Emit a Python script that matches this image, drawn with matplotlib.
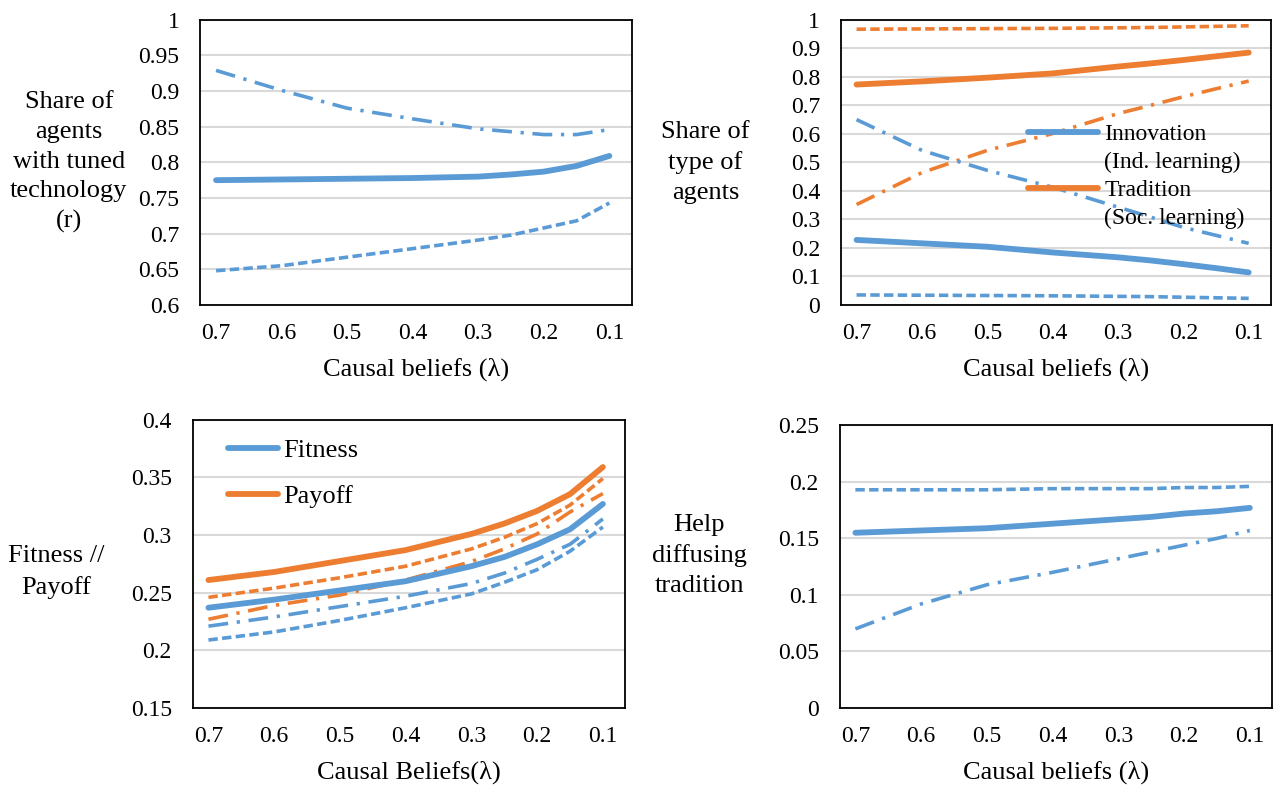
import numpy as np
import matplotlib
matplotlib.use('Agg')
import matplotlib.pyplot as plt
from matplotlib.lines import Line2D

plt.rcParams['font.family'] = ['Liberation Serif', 'DejaVu Serif']
plt.rcParams['font.size'] = 17

blue = '#5B9BD5'
orange = '#ED7D31'

# causal beliefs lambda
lam = [0.7, 0.6, 0.5, 0.4, 0.3, 0.25, 0.2, 0.15, 0.1]
lam_ticks = [0.7, 0.6, 0.5, 0.4, 0.3, 0.2, 0.1]

# share of agents with tuned technology (r)
r_mean = [0.775, 0.776, 0.777, 0.778, 0.780, 0.783, 0.787, 0.795, 0.809]
r_high = [0.929, 0.901, 0.876, 0.861, 0.847, 0.843, 0.839, 0.839, 0.846]
r_low = [0.648, 0.655, 0.667, 0.679, 0.691, 0.698, 0.708, 0.718, 0.743]

# share of type of agents
innov_mean = [0.228, 0.216, 0.204, 0.184, 0.167, 0.156, 0.143, 0.129, 0.114]
innov_dd = [0.650, 0.542, 0.472, 0.413, 0.343, 0.308, 0.272, 0.244, 0.216]
innov_dash = [0.035, 0.034, 0.033, 0.032, 0.030, 0.029, 0.027, 0.025, 0.023]
trad_mean = [0.773, 0.784, 0.797, 0.812, 0.836, 0.847, 0.859, 0.872, 0.885]
trad_dd = [0.352, 0.464, 0.542, 0.601, 0.671, 0.700, 0.730, 0.758, 0.785]
trad_dash = [0.967, 0.968, 0.969, 0.970, 0.972, 0.973, 0.975, 0.977, 0.979]

# fitness and payoff
fit_mean = [0.237, 0.244, 0.252, 0.260, 0.273, 0.281, 0.292, 0.305, 0.327]
fit_dd = [0.221, 0.229, 0.238, 0.247, 0.258, 0.267, 0.279, 0.292, 0.314]
fit_dash = [0.209, 0.216, 0.226, 0.237, 0.249, 0.259, 0.270, 0.286, 0.307]
pay_mean = [0.261, 0.268, 0.2775, 0.287, 0.301, 0.310, 0.321, 0.3355, 0.359]
pay_dash = [0.246, 0.254, 0.263, 0.273, 0.288, 0.298, 0.310, 0.326, 0.349]
pay_dd = [0.227, 0.239, 0.248, 0.261, 0.277, 0.288, 0.301, 0.320, 0.336]

# help diffusing tradition
help_mean = [0.155, 0.157, 0.159, 0.163, 0.167, 0.169, 0.172, 0.174, 0.177]
help_dd = [0.070, 0.092, 0.109, 0.120, 0.132, 0.138, 0.144, 0.150, 0.157]
help_dash = [0.193, 0.193, 0.193, 0.194, 0.194, 0.194, 0.195, 0.195, 0.196]

fig = plt.figure(figsize=(12.76, 7.92), dpi=100)
ax1 = fig.add_axes([0.157, 0.615, 0.338, 0.360])
ax2 = fig.add_axes([0.659, 0.615, 0.337, 0.360])
ax3 = fig.add_axes([0.151, 0.106, 0.339, 0.364])
ax4 = fig.add_axes([0.658, 0.106, 0.339, 0.357])

SOLID = dict(lw=4.2, solid_capstyle='round', solid_joinstyle='round')
DASH = dict(lw=2.6, ls=(0, (2.6, 1.2)))
DDOT = dict(lw=2.6, ls=(0, (5.5, 2.4, 0.9, 2.4)))


def style(ax, ylim, yticks, ylabels, xlabel, ytext, ytext_x, ytext_y=0.5):
    ax.set_xlim(0.724, 0.066)
    ax.set_ylim(*ylim)
    ax.set_xticks(lam_ticks)
    ax.set_xticklabels([str(v) for v in lam_ticks])
    ax.set_yticks(yticks)
    ax.set_yticklabels(ylabels)
    ax.tick_params(length=0, labelsize=17)
    ax.tick_params(axis='x', pad=13)
    ax.tick_params(axis='y', pad=15)
    ax.grid(axis='y', color='#D9D9D9', lw=1.5)
    ax.set_axisbelow(True)
    for s in ax.spines.values():
        s.set_linewidth(1.3)
        s.set_color('black')
    ax.set_xlabel(xlabel, fontsize=19, labelpad=10)
    ax.text(ytext_x, ytext_y, ytext, transform=ax.transAxes, ha='center',
            va='center', fontsize=19, linespacing=1.45)


ax1.plot(lam, r_mean, color=blue, **SOLID)
ax1.plot(lam, r_high, color=blue, **DDOT)
ax1.plot(lam, r_low, color=blue, **DASH)
style(ax1, (0.6, 1.0), np.arange(0.6, 1.001, 0.05),
      ['0.6', '0.65', '0.7', '0.75', '0.8', '0.85', '0.9', '0.95', '1'],
      'Causal beliefs (\u03bb)',
      'Share of\nagents\nwith tuned\ntechnology\n(r)', -0.305)

ax2.plot(lam, trad_dash, color=orange, **DASH)
ax2.plot(lam, trad_mean, color=orange, **SOLID)
ax2.plot(lam, trad_dd, color=orange, **DDOT)
ax2.plot(lam, innov_dd, color=blue, **DDOT)
ax2.plot(lam, innov_mean, color=blue, **SOLID)
ax2.plot(lam, innov_dash, color=blue, **DASH)
style(ax2, (0.0, 1.0), np.arange(0, 1.001, 0.1),
      ['0', '0.1', '0.2', '0.3', '0.4', '0.5', '0.6', '0.7', '0.8', '0.9', '1'],
      'Causal beliefs (\u03bb)', 'Share of\ntype of\nagents', -0.315)
# second line of each entry gets an empty handle so the swatch sits on the first line
h_in = Line2D([], [], color=blue, lw=4.2, solid_capstyle='round')
h_tr = Line2D([], [], color=orange, lw=4.2, solid_capstyle='round')
h_no = Line2D([], [], color='none')
ax2.legend([h_in, h_no, h_tr, h_no],
           ['Innovation', '(Ind. learning)', 'Tradition', '(Soc. learning)'],
           loc='upper left', bbox_to_anchor=(0.434, 0.636), frameon=False,
           handlelength=3.0, handletextpad=0.25, labelspacing=0.27,
           borderpad=0, borderaxespad=0, fontsize=17)

ax3.plot(lam, pay_mean, color=orange, **SOLID)
ax3.plot(lam, pay_dash, color=orange, **DASH)
ax3.plot(lam, pay_dd, color=orange, **DDOT)
ax3.plot(lam, fit_mean, color=blue, **SOLID)
ax3.plot(lam, fit_dd, color=blue, **DDOT)
ax3.plot(lam, fit_dash, color=blue, **DASH)
style(ax3, (0.15, 0.4), np.arange(0.15, 0.401, 0.05),
      ['0.15', '0.2', '0.25', '0.3', '0.35', '0.4'],
      'Causal Beliefs(\u03bb)', 'Fitness //\nPayoff', -0.315, 0.472)
h_f = Line2D([], [], color=blue, lw=4.2, solid_capstyle='round')
h_p = Line2D([], [], color=orange, lw=4.2, solid_capstyle='round')
ax3.legend([h_f, h_p], ['Fitness', 'Payoff'], loc='upper left',
           bbox_to_anchor=(0.081, 0.934), frameon=False, handlelength=1.9,
           handletextpad=0.2, labelspacing=0.85, borderpad=0, borderaxespad=0,
           fontsize=19)

ax4.plot(lam, help_dash, color=blue, **DASH)
ax4.plot(lam, help_mean, color=blue, **SOLID)
ax4.plot(lam, help_dd, color=blue, **DDOT)
style(ax4, (0.0, 0.25), np.arange(0, 0.251, 0.05),
      ['0', '0.05', '0.1', '0.15', '0.2', '0.25'],
      'Causal beliefs (\u03bb)', 'Help\ndiffusing\ntradition', -0.325, 0.54)

fig.savefig('out.png', dpi=100)
